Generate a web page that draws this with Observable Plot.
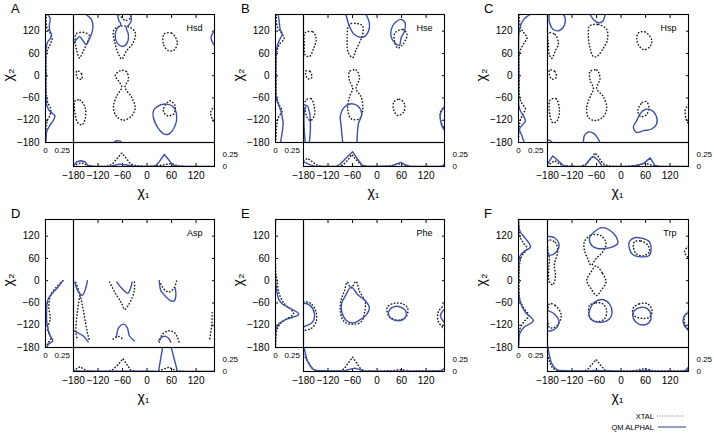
<!DOCTYPE html>
<html><head><meta charset="utf-8">
<script src="https://cdn.jsdelivr.net/npm/d3@7"></script>
<script src="https://cdn.jsdelivr.net/npm/@observablehq/plot@0.6"></script>
<style>
body{margin:0;background:#fff;}
#root{position:relative;width:714px;height:436px;overflow:hidden;background:#fff;font-family:"Liberation Sans",Arial,Helvetica,sans-serif;color:#000;}
#root svg{position:absolute;}
.lab{position:absolute;white-space:nowrap;line-height:1;}
</style></head><body><div id="root"></div><script>
// ---------- tick labels / categories ----------
const chiTicks = [-180, -120, -60, 0, 60, 120];
const probTicks = [0, 0.25];
const panelLetters = ["A", "B", "C", "D", "E", "F"];
const residues = ["Hsd", "Hse", "Hsp", "Asp", "Phe", "Trp"];
const seriesNames = ["XTAL", "QM ALPHAL"];

// ---------- Hsd (A) ---------- contours: [chi1, chi2]; marginals chi2: [chi2, p]; chi1: [chi1, p]
const hsdQmClosed = [
  [[15.5,-94.6],[27.7,-81],[48,-76.6],[64,-83.8],[72.5,-108],[68.5,-135],[52,-157.7],[40,-156],[23.6,-135],[15.5,-112.6]]
];
const hsdQmOpen = [
  [[-149,165],[-135,149],[-133,126],[-141,99],[-149,84],[-157,95],[-165,105],[-174,96],[-180,86]],
  [[-72.5,165],[-69,149],[-64,138],[-74,126],[-78,108],[-72.5,87],[-59.5,79],[-48,90],[-46,113],[-51,129],[-46,135],[-39,147],[-40,165]],
  [[165,120],[162,117],[156.5,103.6],[162,85.6],[165,82]],
  [[-80,-180],[-76,-176],[-66,-176],[-63,-180]]
];
const hsdXtalClosed = [
  [[-173.6,112.6],[-155.7,117],[-141,108],[-146,90],[-155.7,67.6],[-165.4,47.7],[-172,67.6],[-176,94.6]],
  [[-82,121.6],[-70,132],[-45.6,132],[-29,117],[-33.4,90],[-49.7,67.6],[-62,45],[-70,58.6],[-78,85.6]],
  [[-66,13.5],[-51,11.7],[-45.6,-9],[-53.8,-31.5],[-37.5,-58.6],[-29,-85.6],[-37.5,-108],[-57.9,-119.8],[-75.8,-108],[-82.3,-83.8],[-74,-54],[-62,-31.5],[-70,-13.5],[-78,0]],
  [[41.6,112.6],[60.3,114.4],[74,90],[66,69],[52,67.6],[40,85.6]],
  [[-172,13.5],[-160,4.5],[-160,-9],[-170.5,-6.3]],
  [[-176,-67.6],[-164,-65.8],[-151.6,-85.6],[-151.6,-117],[-159.7,-132.4],[-170,-126],[-176,-103.6]],
  [[40,-90],[56,-67.6],[68.5,-81],[64.5,-103.6],[52,-108],[44,-103.6]]
];
const hsdXtalOpen = [
  [[-67.6,165],[-54,149.5],[-40,156],[-41,165]],
  [[165,-82],[162,-85.6],[155.6,-99],[162,-121.6],[165,-124]]
];
const hsdQmChi2 = [[165,0.03],[155,0.07],[140,0.06],[125,0.06],[110,0.09],[100,0.07],[90,0.03],[75,0.01],[60,0.005],[0,0.005],[-60,0.005],[-80,0.02],[-95,0.06],[-108,0.14],[-120,0.12],[-135,0.06],[-150,0.02],[-165,0.01],[-180,0.005]];
const hsdXtalChi2 = [[165,0.01],[130,0.02],[115,0.07],[100,0.1],[85,0.07],[70,0.03],[50,0.01],[0,0.01],[-40,0.01],[-70,0.03],[-90,0.08],[-105,0.07],[-120,0.03],[-140,0.01],[-180,0]];
const hsdQmChi1 = [[-180,0.02],[-172,0.1],[-162,0.12],[-152,0.1],[-145,0.02],[-130,0],[-90,0],[-78,0.03],[-65,0.05],[-50,0.03],[-35,0.01],[0,0],[20,0.01],[30,0.1],[42,0.25],[52,0.15],[62,0.04],[70,0.01],[100,0],[165,0]];
const hsdXtalChi1 = [[-180,0.02],[-170,0.05],[-160,0.08],[-150,0.04],[-140,0.01],[-100,0],[-85,0.05],[-70,0.2],[-62,0.28],[-52,0.18],[-40,0.05],[-25,0.01],[0,0],[40,0.03],[55,0.06],[65,0.05],[75,0.01],[100,0],[165,0]];

// ---------- Hse (B) ----------
const hseQmClosed = [
  [[46.5,145.5],[58.7,151.8],[68.5,142.7],[67,120],[58.7,101.8],[54.6,81.8],[44,88],[34,106],[36,129]]
];
const hseQmOpen = [
  [[-76,165],[-67.7,133.6],[-55.5,111],[-35,103.6],[-21,120],[-19,142.7],[-27,165]],
  [[-84,-180],[-88,-134.5],[-89.7,-107],[-80,-84.5],[-63.6,-75.5],[-47,-81.8],[-37.5,-102.7],[-45.7,-130],[-49,-180]],
  [[-176,-180],[-178,-98],[-171.7,-80],[-165.6,-98],[-163,-134.5],[-165.6,-180]],
  [[165,-85],[163,-87],[155,-102.7],[157,-130],[163,-143.6],[165,-146]]
];
const hseXtalClosed = [
  [[-176,115.5],[-157,118],[-149,97],[-155,74.5],[-165.6,51.8],[-176,56],[-178,83.6]],
  [[-67.7,138],[-47,140],[-35,133.6],[-36.7,106],[-51.4,70],[-59.5,49],[-70,61],[-73.4,92.7]],
  [[44,115.5],[63,124.5],[73.4,111],[63,84.5],[50.6,74.5],[42.4,94.5]],
  [[-67.7,11],[-51.4,15.5],[-43,-7],[-51.4,-34.5],[-39,-57],[-35,-89],[-43,-116],[-63.6,-116],[-71.8,-89],[-67.7,-57],[-59.5,-34.5],[-67.7,-12]],
  [[-174,12.7],[-163.5,11],[-160,-5.5],[-168,-9],[-174,0]],
  [[-174,-66],[-161.5,-62],[-153.4,-84.5],[-153.4,-107],[-163,-121],[-171.3,-112],[-176,-89]],
  [[41,-71],[54.6,-63.6],[66.9,-75.5],[65,-98],[50.6,-107],[41,-93]]
];
const hseXtalOpen = [
  [[165,-82],[163,-84.5],[155,-98],[157,-125],[163,-139],[165,-141]]
];
const hseQmChi2 = [[165,0.04],[140,0.06],[125,0.07],[112,0.1],[100,0.07],[83,0.03],[65,0.01],[0,0.005],[-60,0.01],[-80,0.05],[-100,0.09],[-112,0.1],[-125,0.115],[-153,0.1],[-180,0.075]];
const hseXtalChi2 = [[165,0.01],[130,0.03],[115,0.09],[100,0.13],[85,0.06],[65,0.02],[40,0.01],[0,0.01],[-60,0.02],[-80,0.06],[-95,0.1],[-110,0.05],[-130,0.02],[-160,0.01],[-180,0]];
const hseQmChi1 = [[-180,0.1],[-170,0.06],[-160,0.02],[-150,0],[-100,0],[-90,0.05],[-75,0.18],[-60,0.31],[-48,0.16],[-35,0.01],[0,0],[35,0.01],[50,0.06],[58,0.085],[68,0.04],[80,0],[150,0],[160,0.01],[165,0.05]];
const hseXtalChi1 = [[-180,0.12],[-170,0.17],[-157,0.09],[-145,0.02],[-130,0],[-90,0],[-80,0.06],[-70,0.15],[-62,0.25],[-52,0.15],[-40,0.04],[-25,0],[35,0.01],[50,0.05],[60,0.06],[70,0.03],[85,0],[165,0]];

// ---------- Hsp (C) ----------
const hspQmClosed = [
  [[46.5,-102.7],[38.3,-121],[30,-139],[38.3,-152.7],[54.6,-148],[75,-143.6],[87,-130],[85.6,-107],[75,-93.6],[58.7,-91]]
];
const hspQmOpen = [
  [[-176,165],[-175,142.7],[-165.6,124.5],[-151,121.8],[-138.7,136],[-137,156],[-141,165]],
  [[-75.8,165],[-67.7,151.8],[-55.5,142.7],[-44.9,147],[-39,165]],
  [[-92,-180],[-90,-162],[-80,-151.8],[-66,-156],[-55.5,-171.8],[-51.4,-180]],
  [[-180,-172.7],[-172,-176],[-168,-180]]
];
const hspXtalClosed = [
  [[-178,115.5],[-161.5,111],[-153.4,88],[-161.5,65.5],[-169.6,47],[-175,54.5],[-177.8,83.6]],
  [[-77.5,133.6],[-55.5,138],[-35,124.5],[-33.4,97],[-43,74.5],[-59.5,51.8],[-67.7,51.8],[-75.8,74.5],[-80,106]],
  [[42.4,115.5],[58.7,118],[75,97],[71,79],[56,70],[42.4,83.6],[38.3,101.8]],
  [[-75.8,11],[-59.5,15.5],[-51.4,-7],[-59.5,-34.5],[-43,-57],[-35,-89],[-44.9,-112],[-63.6,-121],[-80,-112],[-84,-84.5],[-75.8,-57],[-67.7,-34.5],[-75.8,-12]],
  [[-175,15.5],[-161.5,11],[-159,-5.5],[-169.6,-9],[-175,2]],
  [[-173.7,-66],[-159,-62],[-151,-89],[-156,-121],[-167,-127],[-173.7,-107]],
  [[41,-95],[52,-72],[62,-70],[68,-85],[62,-105],[48,-110]]
];
const hspXtalOpen = [
  [[165,-78],[162,-82],[156.6,-93.6],[159,-116],[163,-126],[165,-128]]
];
const hspQmChi2 = [[165,0.17],[158,0.11],[150,0.07],[140,0.04],[129,0.02],[110,0.005],[0,0.005],[-80,0.005],[-94,0.025],[-108,0.07],[-121,0.1],[-132,0.06],[-144,0.015],[-162,0.05],[-176,0.075],[-180,0.09]];
const hspXtalChi2 = [[165,0.01],[130,0.03],[115,0.08],[102,0.125],[88,0.08],[70,0.03],[50,0.01],[0,0.01],[-60,0.02],[-75,0.05],[-89,0.1],[-105,0.06],[-125,0.02],[-180,0]];
const hspQmChi1 = [[-180,0.05],[-167,0.22],[-149,0.085],[-141,0.02],[-130,0],[-90,0],[-74,0.18],[-66,0.2],[-55,0.12],[-47,0.01],[-30,0],[20,0],[30,0.01],[55,0.06],[71,0.18],[83,0.02],[95,0],[165,0]];
const hspXtalChi1 = [[-180,0.02],[-170,0.08],[-162,0.12],[-150,0.05],[-140,0.01],[-100,0],[-85,0.05],[-72,0.18],[-64,0.28],[-55,0.2],[-45,0.06],[-30,0.01],[0,0],[40,0.02],[59,0.07],[70,0.04],[85,0],[165,0]];

// ---------- Asp (D) ----------
const aspQmClosed = [];
const aspQmOpen = [
  [[-177,-3.6],[-168,-30],[-158,-39],[-150,-19.7],[-146,0]],
  [[-179,-135],[-156,-149],[-144,-165]],
  [[-74,-3.6],[-61,-21.5],[-47,-34],[-41.3,-23],[-36.4,-3.6]],
  [[-75.3,-153],[-69,-126],[-57.5,-117],[-48.6,-126],[-43,-149],[-30.8,-162]],
  [[30,-0.9],[34,-27.7],[44.5,-41],[56,-52.8],[66.4,-54.6],[70.4,-41],[68.8,-18.8]],
  [[28.3,-162],[34,-153.6],[46,-150],[54,-157],[58,-166]]
];
const aspXtalClosed = [];
const aspXtalOpen = [
  [[-174,-5.4],[-164.4,-37],[-158,-68],[-152,-104],[-146,-140],[-141.7,-158]],
  [[-164.4,-41],[-170.9,-85.9],[-174,-139.6],[-170.9,-157.6]],
  [[-91.5,-3.6],[-79.4,-30.4],[-63.2,-59],[-55,-77],[-47,-68],[-36.4,-45.7],[-30.8,-23.3],[-30.8,-3.6]],
  [[-83,-157.6],[-71,-150],[-59,-157.6]],
  [[30,-0.9],[42,-23.3],[54,-30.4],[66.4,-18.8],[72,-0.9]],
  [[30,-166],[38,-144],[52.6,-135],[66.4,-139.6],[74.5,-153],[78.5,-166]],
  [[159.5,-86],[158,-121.8],[153,-157.6]]
];
const aspQmChi2 = [[0,0.26],[-7,0.23],[-19,0.18],[-28,0.13],[-46,0.05],[-59,0.026],[-86,0.016],[-122,0.026],[-148,0.07],[-162,0.11],[-170,0.05],[-180,0.02]];
const aspXtalChi2 = [[0,0.26],[-18,0.16],[-38,0.08],[-68,0.05],[-103,0.07],[-130,0.03],[-158,0.08],[-167,0.04],[-180,0.01]];
const aspQmChi1 = [[-180,0.01],[-150,0.005],[0,0.005],[28,0],[40,0.6],[56,0.6],[74.5,0],[165,0]];
const aspXtalChi1 = [[-180,0.02],[-172,0.06],[-164,0.1],[-155,0.05],[-145,0.01],[-100,0],[-85,0.03],[-70,0.15],[-59,0.27],[-50,0.15],[-40,0.03],[-25,0],[25,0],[40,0.05],[54,0.09],[62,0.05],[75,0.01],[100,0],[165,0]];

// ---------- Phe (E) ----------
const pheQmClosed = [
  [[-63.6,-16.5],[-47.3,-37.6],[-27,-56],[-18.8,-74.3],[-27,-92.7],[-43,-106.4],[-59.5,-113.8],[-75.9,-106.4],[-86.5,-83.5],[-86.5,-60.6],[-75.9,-37.6]],
  [[30.2,-79],[42.4,-69.7],[58.7,-71.6],[71,-83.5],[67,-101.8],[50.6,-108],[34.3,-101.8],[27.7,-90]]
];
const pheQmOpen = [
  [[-180,-60],[-165.6,-65],[-153.4,-88],[-157.5,-111],[-169.6,-120],[-180,-124.8]],
  [[165,-77],[163,-79],[155,-92.7],[163,-111],[165,-113]]
];
const pheXtalClosed = [
  [[-73.4,-3.7],[-63.6,-19.3],[-51.4,-1.8],[-43,-28.4],[-29.4,-56],[-31,-88],[-39,-111],[-59.5,-117.4],[-80,-111],[-89.7,-83.5],[-88,-51.4],[-80,-28.4]],
  [[26,-69.7],[42.4,-60.6],[62.8,-62.4],[75,-74.3],[71,-97.2],[50.6,-106.4],[30.2,-97.2],[24.5,-83.5]]
];
const pheXtalOpen = [
  [[-180,-56],[-163,-60.6],[-149.3,-83.5],[-149.3,-111],[-161.5,-129],[-180,-134]],
  [[165,-65],[150,-83.5],[150,-111],[165,-129.4]]
];
const pheQmChi2 = [[165,0],[0,0],[-15,0.01],[-51,0.05],[-65,0.12],[-90,0.35],[-105,0.15],[-116,0.05],[-130,0.01],[-150,0],[-180,0]];
const pheXtalChi2 = [[165,0],[20,0.005],[0,0.025],[-33,0.05],[-60,0.125],[-88,0.27],[-111,0.1],[-130,0.025],[-160,0.005],[-180,0]];
const pheQmChi1 = [[-180,0.55],[-172,0.25],[-165,0.13],[-157,0.05],[-148,0.02],[-120,0.01],[-80,0.01],[-70,0.04],[-55,0.07],[-42,0.04],[-35,0.01],[0,0.005],[100,0.005],[155,0.01],[160,0.03],[165,0.07]];
const pheXtalChi1 = [[-180,0.35],[-172,0.25],[-165,0.15],[-158,0.06],[-150,0.02],[-130,0.01],[-90,0.01],[-80,0.06],[-70,0.18],[-60,0.3],[-50,0.18],[-40,0.05],[-30,0.01],[0,0.005],[40,0.02],[55,0.04],[65,0.03],[80,0.01],[150,0.01],[160,0.03],[165,0.05]];

// ---------- Trp (F) ----------
const trpQmClosed = [
  [[-77.5,114],[-65.3,132],[-44.9,143],[-28.5,136.7],[-12.2,118.6],[-8.2,100.5],[-20.4,91.4],[-40.8,86.9],[-57,86.9],[-71,94]],
  [[20.4,105],[32.6,115.8],[53,114],[69.3,105],[73.4,86.9],[69.3,68.8],[49,64.3],[28.5,70.6],[20.4,86.9]],
  [[-75.9,-76],[-65.3,-58],[-44.9,-50.7],[-28.5,-62.4],[-22,-85],[-28.5,-103],[-49,-112],[-69.3,-107.7],[-79,-94]],
  [[28.5,-94],[32.6,-80.5],[49,-71.5],[65.3,-76],[73.4,-94],[69.3,-112],[53,-119.5],[36.7,-112]]
];
const trpQmOpen = [
  [[-180,119],[-163,115.8],[-152.3,100.5],[-155,82.4],[-167,70.6],[-180,68.8]],
  [[-180,-80],[-163,-89.6],[-152.3,-107.7],[-157,-125.8],[-171,-134.8],[-180,-135]],
  [[165,-85],[163,-87],[155,-94],[153,-116.7],[163,-132],[165,-134]]
];
const trpXtalClosed = [
  [[-178.6,109.5],[-160.7,103],[-155,77.8],[-163,46],[-160.7,10],[-167,-10.9],[-175.4,-3.6],[-177,32.6],[-175.4,59.7],[-179.4,86.9]],
  [[-89.7,105],[-73.4,123],[-49,121.3],[-36.7,100.5],[-44.9,77.8],[-61.2,59.7],[-73.4,41.6],[-81.6,59.7],[-89.7,82.4]],
  [[-61.2,39.8],[-44.9,19],[-36.7,-3.6],[-49,-26],[-59.5,-39.8],[-73.4,-21.7],[-84,0.9],[-73.4,23.5]],
  [[32.6,105],[49,106.8],[65.3,95.9],[69.3,77.8],[53,66.9],[36.7,73.3],[30.2,91.4]],
  [[-77.5,-67],[-61.2,-59.7],[-44.9,-62.4],[-35,-80.5],[-40.8,-103],[-57,-110.3],[-73.4,-103],[-79,-85]],
  [[28.5,-76],[44.9,-62.4],[65.3,-62.4],[75.9,-80.5],[69.3,-98.6],[49,-101.3],[32.6,-94]],
  [[-175.4,-62.4],[-160.7,-67],[-146.8,-89.6],[-151,-112],[-163,-125.8],[-175.4,-125.8]]
];
const trpXtalOpen = [
  [[165,93],[163,91.4],[155,77.8],[163,64.3],[165,62]],
  [[165,-82],[163,-85],[155,-96],[156,-116],[163,-130],[165,-132]]
];
const trpQmChi2 = [[165,0],[145,0.005],[132,0.025],[114,0.1],[91,0.175],[78,0.075],[64,0.015],[40,0.005],[-40,0.005],[-58,0.025],[-85,0.1],[-108,0.215],[-126,0.075],[-144,0.015],[-165,0.005],[-180,0]];
const trpXtalChi2 = [[165,0.005],[120,0.02],[100,0.08],[87,0.125],[70,0.06],[50,0.02],[0,0.01],[-50,0.02],[-75,0.08],[-94,0.15],[-110,0.08],[-130,0.02],[-180,0]];
const trpQmChi1 = [[-180,0.55],[-176,0.35],[-171,0.19],[-165,0.1],[-159,0.05],[-150,0.02],[-120,0.01],[-80,0.01],[-65,0.02],[-50,0.015],[0,0.005],[40,0.01],[60,0.02],[75,0.01],[150,0.005],[158,0.03],[165,0.09]];
const trpXtalChi1 = [[-180,0.35],[-175,0.2],[-170,0.1],[-162,0.04],[-150,0.01],[-90,0.01],[-80,0.06],[-70,0.16],[-61,0.25],[-52,0.15],[-40,0.03],[-25,0.01],[20,0.01],[40,0.03],[55,0.055],[68,0.04],[80,0.01],[150,0.01],[160,0.02],[165,0.03]];

// ---------- assemble ----------
const panels = [
  {qmC:hsdQmClosed, qmO:hsdQmOpen, xtC:hsdXtalClosed, xtO:hsdXtalOpen, qm2:hsdQmChi2, xt2:hsdXtalChi2, qm1:hsdQmChi1, xt1:hsdXtalChi1, chi1Label:true},
  {qmC:hseQmClosed, qmO:hseQmOpen, xtC:hseXtalClosed, xtO:hseXtalOpen, qm2:hseQmChi2, xt2:hseXtalChi2, qm1:hseQmChi1, xt1:hseXtalChi1, chi1Label:true},
  {qmC:hspQmClosed, qmO:hspQmOpen, xtC:hspXtalClosed, xtO:hspXtalOpen, qm2:hspQmChi2, xt2:hspXtalChi2, qm1:hspQmChi1, xt1:hspXtalChi1, chi1Label:true},
  {qmC:aspQmClosed, qmO:aspQmOpen, xtC:aspXtalClosed, xtO:aspXtalOpen, qm2:aspQmChi2, xt2:aspXtalChi2, qm1:aspQmChi1, xt1:aspXtalChi1, chi1Label:true},
  {qmC:pheQmClosed, qmO:pheQmOpen, xtC:pheXtalClosed, xtO:pheXtalOpen, qm2:pheQmChi2, xt2:pheXtalChi2, qm1:pheQmChi1, xt1:pheXtalChi1, chi1Label:false},
  {qmC:trpQmClosed, qmO:trpQmOpen, xtC:trpXtalClosed, xtO:trpXtalOpen, qm2:trpQmChi2, xt2:trpXtalChi2, qm1:trpQmChi1, xt1:trpXtalChi1, chi1Label:true}
];

const BLUE = "#3d50a5";
const SOLID = {stroke: BLUE, strokeWidth: 1.4};
const DOTS = {stroke: "#1a1a1a", strokeWidth: 1.5, strokeDasharray: "0.4,2.8", strokeLinecap: "round"};
const FONT = '"Liberation Sans", Arial, Helvetica, sans-serif';
const colLM = [45, 275, 518], colMain = [73, 303, 547], rowTop = [14, 219];
const MW = 141, MH = 128, BH = 24;
const root = document.getElementById("root");
const noFmt = () => "";
const probFmt = d3.format("~g");

function rows(contours) {
  return contours.flatMap((c, k) => c.map(([x, y]) => ({x, y, k})));
}
function place(el, left, top) {
  el.style.left = left + "px"; el.style.top = top + "px";
  root.appendChild(el);
}
function label(text, x, y, css) {
  const d = document.createElement("div");
  d.className = "lab"; d.textContent = text;
  d.style.cssText += css;
  d.style.left = x + "px"; d.style.top = y + "px";
  root.appendChild(d);
  return d;
}
const style = {background: "none", fontFamily: FONT, overflow: "visible", maxWidth: "none"};

panels.forEach((p, i) => {
  const c = i % 3, r = Math.floor(i / 3);
  const Lx = colLM[c], Mx = colMain[c], T = rowTop[r];
  const lw = Mx - Lx;

  // left marginal (chi2 distribution)
  const lm = Plot.plot({
    width: 45 + lw + 1, height: 1 + MH + 20,
    marginLeft: 45, marginRight: 1, marginTop: 1, marginBottom: 20,
    style,
    x: {domain: [0, 0.42], axis: null, label: null},
    y: {domain: [-180, 165], axis: null, label: null},
    marks: [
      Plot.axisY({ticks: chiTicks, anchor: "left", tickSize: 0, tickPadding: 6, fontSize: 10, label: null}),
      Plot.axisY({ticks: chiTicks, anchor: "left", tickSize: -3, tickFormat: noFmt, label: null}),
      Plot.axisX({ticks: probTicks, anchor: "bottom", tickSize: 0, tickPadding: 5, fontSize: 8, tickFormat: probFmt, label: null}),
      Plot.line(p.xt2, {x: d => d[1], y: d => d[0], curve: "catmull-rom", clip: true, ...DOTS}),
      Plot.line(p.qm2, {x: d => d[1], y: d => d[0], curve: "catmull-rom", clip: true, ...SOLID}),
      Plot.frame({stroke: "#000", strokeWidth: 1.1})
    ]
  });
  place(lm, Lx - 45, T - 1);

  // main contour plot
  const main = Plot.plot({
    width: MW + 2, height: MH + 2,
    marginLeft: 1, marginRight: 1, marginTop: 1, marginBottom: 1,
    style,
    x: {domain: [-180, 165], axis: null, label: null},
    y: {domain: [-180, 165], axis: null, label: null},
    marks: [
      Plot.axisX({ticks: chiTicks, anchor: "top", tickSize: -3, tickFormat: noFmt, label: null}),
      Plot.axisY({ticks: chiTicks, anchor: "right", tickSize: -3, tickFormat: noFmt, label: null}),
      Plot.line(rows(p.xtC), {x: "x", y: "y", z: "k", curve: "catmull-rom-closed", clip: true, ...DOTS}),
      Plot.line(rows(p.xtO), {x: "x", y: "y", z: "k", curve: "catmull-rom", clip: true, ...DOTS}),
      Plot.line(rows(p.qmC), {x: "x", y: "y", z: "k", curve: "catmull-rom-closed", clip: true, ...SOLID}),
      Plot.line(rows(p.qmO), {x: "x", y: "y", z: "k", curve: "catmull-rom", clip: true, ...SOLID}),
      Plot.text([residues[i]], {text: d => d, frameAnchor: "top-right", dx: -12, dy: 14, lineAnchor: "middle", fontSize: 9, fill: "#000"}),
      Plot.frame({stroke: "#000", strokeWidth: 1.1})
    ]
  });
  place(main, Mx - 1, T - 1);

  // bottom marginal (chi1 distribution)
  const bm = Plot.plot({
    width: 1 + MW + 34, height: 1 + BH + 20,
    marginLeft: 1, marginRight: 34, marginTop: 1, marginBottom: 20,
    style,
    x: {domain: [-180, 165], axis: null, label: null},
    y: {domain: [0, 0.5], axis: null, label: null},
    marks: [
      Plot.axisX({ticks: chiTicks, anchor: "bottom", tickSize: 0, tickPadding: 5, fontSize: 10, label: null}),
      Plot.axisX({ticks: chiTicks, anchor: "bottom", tickSize: -3, tickFormat: noFmt, label: null}),
      Plot.axisY({ticks: probTicks, anchor: "right", tickSize: 0, tickPadding: 8, fontSize: 8, tickFormat: probFmt, label: null}),
      Plot.line(p.xt1, {x: d => d[0], y: d => d[1], clip: true, ...DOTS}),
      Plot.line(p.qm1, {x: d => d[0], y: d => d[1], clip: true, ...SOLID}),
      Plot.frame({stroke: "#000", strokeWidth: 1.1})
    ]
  });
  place(bm, Mx - 1, T + MH - 1);

  // panel letter and axis titles
  label(panelLetters[i], Lx - 34, T - 12, "font-size:13px;");
  const y2 = label("χ₂", 0, 0, "font-size:14px;transform:translate(-50%,-50%) rotate(-90deg);");
  y2.style.left = (Lx - 37) + "px"; y2.style.top = (T + 61) + "px";
  if (p.chi1Label) {
    const x1 = label("χ₁", 0, 0, "font-size:14px;transform:translate(-50%,-50%);");
    x1.style.left = (Mx + MW / 2) + "px"; x1.style.top = (T + 178) + "px";
  }
});

// legend
const lg = document.createElementNS("http://www.w3.org/2000/svg", "svg");
lg.setAttribute("width", 114); lg.setAttribute("height", 30);
lg.innerHTML = `
  <text x="54" y="11" text-anchor="end" dominant-baseline="central" font-size="7.5" font-family='${FONT}'>${seriesNames[0]}</text>
  <line x1="57" x2="83" y1="11" y2="11" stroke="#666" stroke-width="0.9" stroke-dasharray="1,1.5"/>
  <text x="54" y="22" text-anchor="end" dominant-baseline="central" font-size="7.5" font-family='${FONT}'>${seriesNames[1]}</text>
  <line x1="58" x2="86" y1="22" y2="22" stroke="${BLUE}" stroke-width="1.1"/>`;
place(lg, 600, 405);
</script></body></html>
